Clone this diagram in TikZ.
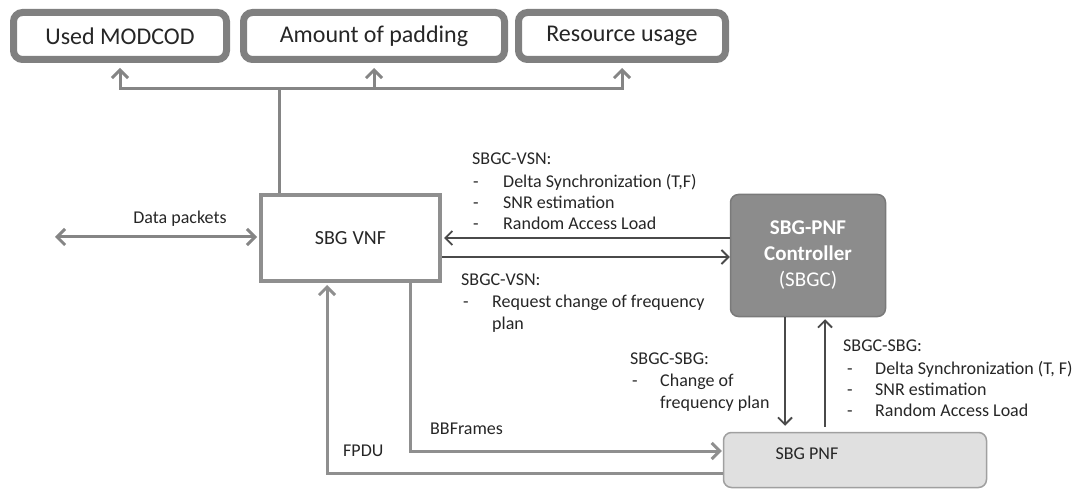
\documentclass[tikz,border=0pt]{standalone}
\usepackage{fontspec}
\setmainfont{Carlito}
\usetikzlibrary{arrows.meta,calc}
\definecolor{boxgray}{HTML}{808080}
\definecolor{linegray}{HTML}{858585}
\definecolor{vnfgray}{HTML}{8F8F8F}
\definecolor{darkline}{HTML}{4A4A4A}
\definecolor{sbgcfill}{HTML}{8C8C8C}
\definecolor{sbgcdraw}{HTML}{7A7A7A}
\definecolor{pnffill}{HTML}{E0E0E0}
\definecolor{pnfdraw}{HTML}{A0A0A0}
\definecolor{txt}{HTML}{262626}
\begin{document}
\begin{tikzpicture}[x=1pt,y=-1pt,
  topbox/.style={draw=boxgray, line width=7pt, rounded corners=9pt, fill=white,
    inner sep=0pt, text=txt, font=\fontsize{24}{28}\selectfont, minimum height=47pt},
  thick arrow/.style={draw=linegray, line width=3pt,
    arrows={-{Straight Barb[length=8pt,width=16pt]}}},
  thin arrow/.style={draw=darkline, line width=1.8pt,
    arrows={-{Straight Barb[length=7pt,width=14pt]}}},
  lbl/.style={anchor=base west, inner sep=0pt, text=txt, font=\fontsize{18}{21}\selectfont},
  lblc/.style={anchor=base, inner sep=0pt, text=txt, font=\fontsize{18}{21}\selectfont}]
\useasboundingbox (0,0) rectangle (1085,489);

% top boxes
\node[topbox, minimum width=213pt] (um) at (120,36) {Used MODCOD};
\node[topbox, minimum width=261pt] (ap) at (374,36) {Amount of padding};
\node[topbox, minimum width=207pt] (ru) at (622,36) {Resource usage};

% main boxes
\node[draw=vnfgray, line width=4pt, fill=white, minimum width=179pt, minimum height=86pt,
  inner sep=0pt, text=txt, font=\fontsize{20}{24}\selectfont] (vnf) at (350.5,238) {SBG\hspace{5pt}VNF};
\node[draw=sbgcdraw, line width=1.5pt, fill=sbgcfill, rounded corners=8pt,
  minimum width=155pt, minimum height=122pt, inner sep=0pt, align=center, text=white,
  font=\fontsize{21}{26}\selectfont] (sbgc) at (808,255.5)
  {\textbf{SBG-PNF}\\\textbf{Controller}\\(SBGC)};
\node[draw=pnfdraw, line width=1.5pt, fill=pnffill, rounded corners=8pt,
  minimum width=263pt, minimum height=55pt, inner sep=0pt] (pnf) at (855,460) {};
\node[lblc] (pnftext) at (807,459) {SBG PNF};

% tree from VNF to top boxes
\coordinate (j) at (279,89);
\draw[draw=linegray, line width=3pt] (j |- vnf.north) -- (j);
\draw[thick arrow, shorten >=5pt] (j) -| (um.south);
\draw[thick arrow, shorten >=5pt] (j) -| (ap.south);
\draw[thick arrow, shorten >=5pt] (j) -| (ru.south);

% data packets
\coordinate (dp) at (55,237);
\draw[thick arrow, arrows={{Straight Barb[length=8pt,width=16pt]}-{Straight Barb[length=8pt,width=16pt]}}, shorten >=2pt] (dp) -- (dp -| vnf.west);
\node[lblc] (dptext) at (180,224) {Data packets};

% VNF <-> SBGC
\draw[thin arrow, shorten >=2pt] (sbgc.west |- vnf.east) -- (vnf.east);
\draw[thin arrow] ([yshift=-19pt]vnf.east) -- ([yshift=-19pt]vnf.east -| sbgc.west);

% SBGC <-> PNF
\draw[thin arrow, shorten >=6pt] ([xshift=-23pt]sbgc.south) -- ([xshift=-23pt]sbgc.south |- pnf.north);
\draw[thin arrow, shorten >=2pt] ([xshift=17pt]sbgc.south |- pnf.north) ++(0,-5) -- ([xshift=17pt]sbgc.south);

% BBFrames and FPDU
\draw[thick arrow, draw=vnfgray, shorten >=1pt] ([xshift=59.5pt]vnf.south) |- ([yshift=9pt]pnf.west);
\draw[thick arrow, draw=vnfgray, shorten >=2pt] ([yshift=-13pt]pnf.west) -| ([xshift=-23.5pt]vnf.south);
\node[lbl] (bbtext) at (430,434) {BBFrames};
\node[lbl] (fpdutext) at (343,456) {FPDU};

% label block SBGC-VSN (upper)
\node[lbl] (a0) at (472,165) {SBGC-VSN:};
\node[lbl] (a1d) at (473,188) {-};
\node[lbl] (a1) at (503,188) {Delta Synchronization (T,F)};
\node[lbl] (a2d) at (473,209) {-};
\node[lbl] (a2) at (503,209) {SNR estimation};
\node[lbl] (a3d) at (473,230) {-};
\node[lbl] (a3) at (503,230) {Random Access Load};

% label block SBGC-VSN (lower)
\node[lbl] (b0) at (461,286) {SBGC-VSN:};
\node[lbl] (b1d) at (463,308) {-};
\node[lbl] (b1) at (492,308) {Request change of frequency};
\node[lbl] (b2) at (492,330) {plan};

% label block SBGC-SBG (left)
\node[lbl] (c0) at (630,364) {SBGC-SBG:};
\node[lbl] (c1d) at (632,386) {-};
\node[lbl] (c1) at (660,386) {Change of};
\node[lbl] (c2) at (660,408) {frequency plan};

% label block SBGC-SBG (right)
\node[lbl] (d0) at (843,352) {SBGC-SBG:};
\node[lbl] (d1d) at (847,374) {-};
\node[lbl] (d1) at (875,374) {Delta Synchronization (T, F)};
\node[lbl] (d2d) at (847,395) {-};
\node[lbl] (d2) at (875,395) {SNR estimation};
\node[lbl] (d3d) at (847,416) {-};
\node[lbl] (d3) at (875,416) {Random Access Load};
\end{tikzpicture}
\end{document}
